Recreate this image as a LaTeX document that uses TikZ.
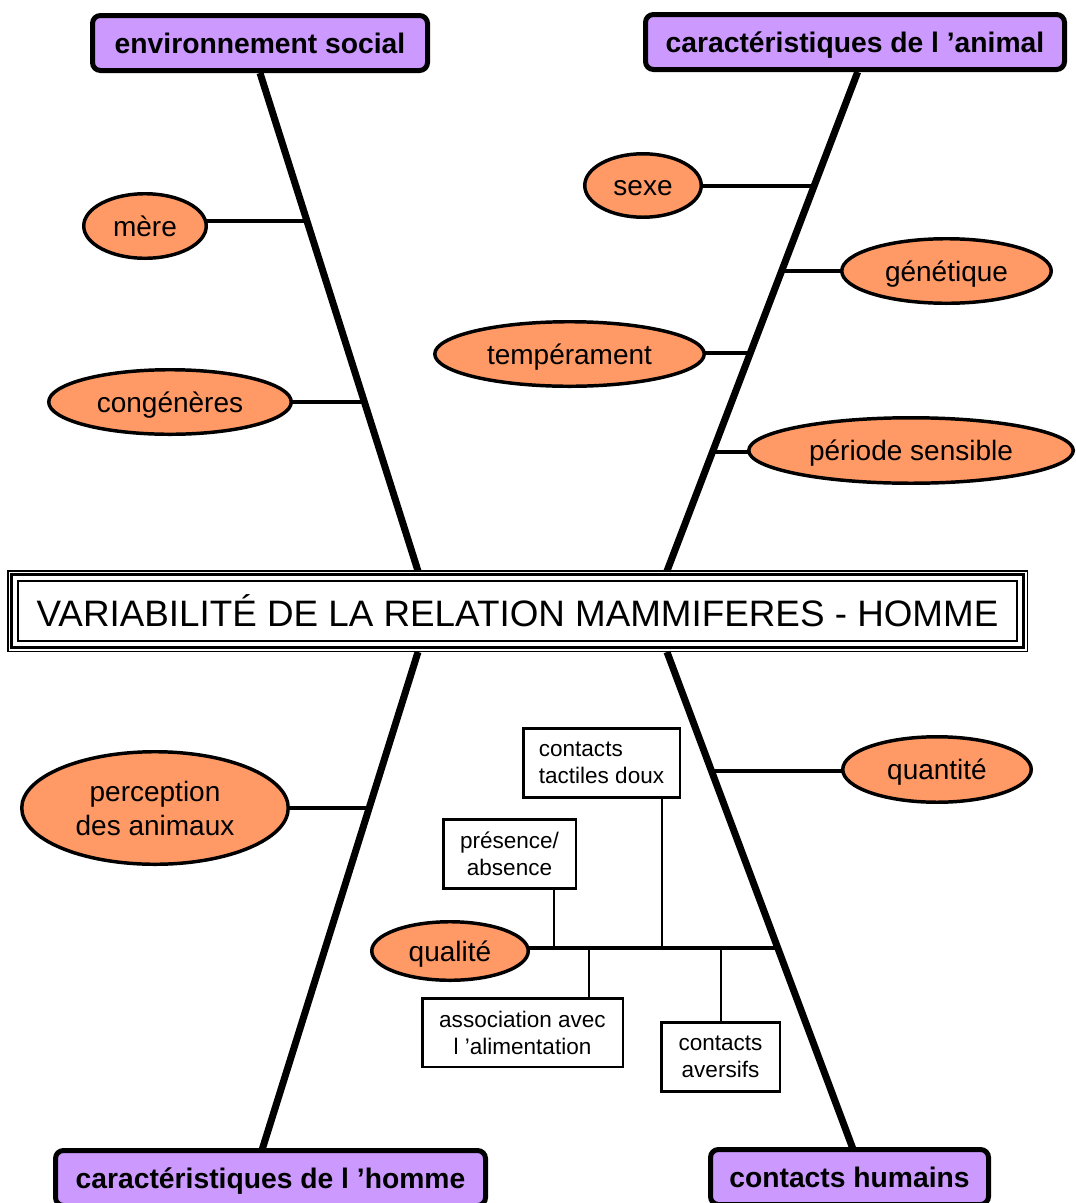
\documentclass[tikz,border=0pt]{standalone}
\usepackage{fontspec}
\setmainfont{Liberation Sans}
\usetikzlibrary{shapes.geometric,backgrounds}
\definecolor{lilac}{HTML}{CC99FF}
\definecolor{salmon}{HTML}{FF9966}
\begin{document}
\begin{tikzpicture}[x=0.75pt,y=-0.75pt,
  cat/.style={draw,line width=3.75pt,rounded corners=6pt,fill=lilac,font=\fontsize{21.2}{25}\selectfont\bfseries,minimum height=41.25pt,inner sep=0pt,text height=15.5pt,text depth=0pt},
  oval/.style={ellipse,draw,line width=2.6pt,fill=salmon,font=\fontsize{21}{25.5}\selectfont,inner sep=0pt,align=center},
  ov1/.style={oval,text height=15.5pt,text depth=0pt},
  sbox/.style={draw,line width=1.9pt,fill=white,font=\fontsize{16.9}{20.3}\selectfont,inner sep=0pt,align=center,minimum height=52.1pt},
  bone/.style={line width=5.25pt},
  rib/.style={line width=2.6pt},
  twig/.style={line width=1.9pt}]
\useasboundingbox (0,0) rectangle (1075,1203);

% category boxes
\node[cat,minimum width=251.25pt] (es) at (260,43) {environnement social};
\node[cat,minimum width=314.25pt] (ca) at (855,42) {caractéristiques de l ’animal};
\node[cat,minimum width=322.5pt] (ch) at (270.5,1178) {caractéristiques de l ’homme};
\node[cat,minimum width=208.5pt] (hum) at (849.5,1177) {contacts humains};

% title
\node[draw,line width=1.1pt,minimum width=749.25pt,minimum height=45pt,inner sep=0pt,font=\fontsize{27.6}{32}\selectfont] (title) at (517.5,611) {VARIABILITÉ DE LA RELATION MAMMIFERES - HOMME};
\draw[line width=2.3pt] ([shift={(-5.5,-5.5)}]title.north west) rectangle ([shift={(5.5,5.5)}]title.south east);
\draw[line width=1.1pt] ([shift={(-9.5,-9.5)}]title.north west) rectangle ([shift={(9.5,9.5)}]title.south east);

% ellipses
\node[ov1,minimum width=91.9pt,minimum height=48.4pt] (mere) at (145,226) {mère};
\node[ov1,minimum width=181.9pt,minimum height=48.4pt] (cong) at (170,402) {congénères};
\node[ov1,minimum width=87.4pt,minimum height=47.6pt] (sexe) at (643,185.5) {sexe};
\node[ov1,minimum width=157.1pt,minimum height=48.4pt] (gen) at (946.5,271) {génétique};
\node[ov1,minimum width=202.1pt,minimum height=48.4pt] (temp) at (569.5,354) {tempérament};
\node[ov1,minimum width=243.4pt,minimum height=49.1pt] (per) at (911,450.5) {période sensible};
\node[oval,minimum width=199.9pt,minimum height=84.4pt] (perc) at (155,808) {perception\\des animaux};
\node[ov1,minimum width=141.4pt,minimum height=49.1pt] (quan) at (937,769.5) {quantité};
\node[ov1,minimum width=117.4pt,minimum height=43.9pt] (qual) at (450,951) {qualité};

% small boxes
\node[sbox,align=left,minimum width=117.4pt] (tac) at (601.5,763) {contacts\\tactiles doux};
\node[sbox,minimum width=99.4pt] (pre) at (509.5,854) {présence/\\absence};
\node[sbox,minimum width=150.4pt,minimum height=51.4pt] (ass) at (522.5,1032.5) {association avec\\l ’alimentation};
\node[sbox,minimum width=88.9pt] (ave) at (720.5,1057) {contacts\\aversifs};

% bone end points
\coordinate (A2) at (418,571);
\coordinate (B2) at (667,571);
\coordinate (C1) at (418,652);
\coordinate (C2) at (262,1150);
\coordinate (D1) at (667,652);
\coordinate (D2) at (853,1149);
% rib junctions
\coordinate (mereJ) at (306,221);
\coordinate (congJ) at (363,402);
\coordinate (sexeJ) at (813,186);
\coordinate (genJ) at (781,271);
\coordinate (tempJ) at (750,353);
\coordinate (perJ) at (712,452);
\coordinate (percJ) at (368,808);
\coordinate (quanJ) at (712,771);
\coordinate (qR) at (778,948);
\coordinate (jTac) at (662,948);
\coordinate (jPre) at (554,948);
\coordinate (jAss) at (589,948);
\coordinate (jAve) at (721,948);

\begin{scope}[on background layer]
  \draw[bone] (es.south) -- (A2);
  \draw[bone] ([xshift=2]ca.south) -- (B2);
  \draw[bone] (C1) -- (C2);
  \draw[bone] (D1) -- (D2);
  \draw[rib] (mere.center |- mereJ) -- (mereJ);
  \draw[rib] (cong.center |- congJ) -- (congJ);
  \draw[rib] (sexe.center |- sexeJ) -- (sexeJ);
  \draw[rib] (gen.center |- genJ) -- (genJ);
  \draw[rib] (temp.center |- tempJ) -- (tempJ);
  \draw[rib] (per.center |- perJ) -- (perJ);
  \draw[rib] (perc.center |- percJ) -- (percJ);
  \draw[rib] (quan.center |- quanJ) -- (quanJ);
  \draw[rib] (qual.center |- qR) -- (qR);
  \draw[twig] (tac.south -| jTac) -- (jTac);
  \draw[twig] (pre.south -| jPre) -- (jPre);
  \draw[twig] (ass.north -| jAss) -- (jAss);
  \draw[twig] (ave.north -| jAve) -- (jAve);
\end{scope}
\end{tikzpicture}
\end{document}
